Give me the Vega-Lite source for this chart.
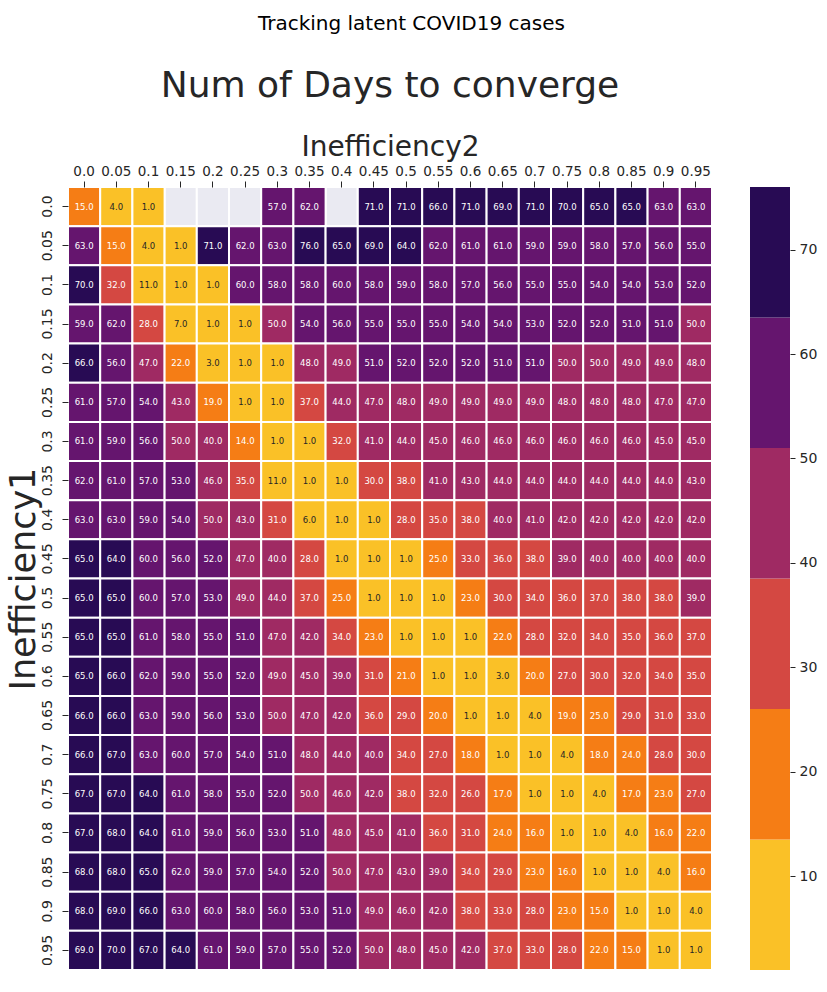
{
  "$schema": "https://vega.github.io/schema/vega-lite/v6.json",
  "background": "white",
  "padding": {"left": 6, "top": 14, "right": 5, "bottom": 5},
  "title": {"text": "Tracking latent COVID19 cases", "fontSize": 20, "fontWeight": "normal", "color": "black", "font": "DejaVu Sans", "anchor": "middle", "offset": 34},
  "config": {"view": {"stroke": null}, "font": "DejaVu Sans"},
  "spacing": 36,
  "resolve": {"scale": {"color": "independent"}},
  "hconcat": [
    {
      "width": 644,
      "height": 783,
      "title": {"text": "Num of Days to converge", "fontSize": 36, "fontWeight": "normal", "color": "#262626", "offset": 28, "anchor": "middle"},
      "data": {"values": [
        {"ineff1":"0.0","ineff2":"0.0","days":15},{"ineff1":"0.0","ineff2":"0.05","days":4},{"ineff1":"0.0","ineff2":"0.1","days":1},{"ineff1":"0.0","ineff2":"0.15","days":null},{"ineff1":"0.0","ineff2":"0.2","days":null},{"ineff1":"0.0","ineff2":"0.25","days":null},{"ineff1":"0.0","ineff2":"0.3","days":57},{"ineff1":"0.0","ineff2":"0.35","days":62},{"ineff1":"0.0","ineff2":"0.4","days":null},{"ineff1":"0.0","ineff2":"0.45","days":71},{"ineff1":"0.0","ineff2":"0.5","days":71},{"ineff1":"0.0","ineff2":"0.55","days":66},{"ineff1":"0.0","ineff2":"0.6","days":71},{"ineff1":"0.0","ineff2":"0.65","days":69},{"ineff1":"0.0","ineff2":"0.7","days":71},{"ineff1":"0.0","ineff2":"0.75","days":70},{"ineff1":"0.0","ineff2":"0.8","days":65},{"ineff1":"0.0","ineff2":"0.85","days":65},{"ineff1":"0.0","ineff2":"0.9","days":63},{"ineff1":"0.0","ineff2":"0.95","days":63},
        {"ineff1":"0.05","ineff2":"0.0","days":63},{"ineff1":"0.05","ineff2":"0.05","days":15},{"ineff1":"0.05","ineff2":"0.1","days":4},{"ineff1":"0.05","ineff2":"0.15","days":1},{"ineff1":"0.05","ineff2":"0.2","days":71},{"ineff1":"0.05","ineff2":"0.25","days":62},{"ineff1":"0.05","ineff2":"0.3","days":63},{"ineff1":"0.05","ineff2":"0.35","days":76},{"ineff1":"0.05","ineff2":"0.4","days":65},{"ineff1":"0.05","ineff2":"0.45","days":69},{"ineff1":"0.05","ineff2":"0.5","days":64},{"ineff1":"0.05","ineff2":"0.55","days":62},{"ineff1":"0.05","ineff2":"0.6","days":61},{"ineff1":"0.05","ineff2":"0.65","days":61},{"ineff1":"0.05","ineff2":"0.7","days":59},{"ineff1":"0.05","ineff2":"0.75","days":59},{"ineff1":"0.05","ineff2":"0.8","days":58},{"ineff1":"0.05","ineff2":"0.85","days":57},{"ineff1":"0.05","ineff2":"0.9","days":56},{"ineff1":"0.05","ineff2":"0.95","days":55},
        {"ineff1":"0.1","ineff2":"0.0","days":70},{"ineff1":"0.1","ineff2":"0.05","days":32},{"ineff1":"0.1","ineff2":"0.1","days":11},{"ineff1":"0.1","ineff2":"0.15","days":1},{"ineff1":"0.1","ineff2":"0.2","days":1},{"ineff1":"0.1","ineff2":"0.25","days":60},{"ineff1":"0.1","ineff2":"0.3","days":58},{"ineff1":"0.1","ineff2":"0.35","days":58},{"ineff1":"0.1","ineff2":"0.4","days":60},{"ineff1":"0.1","ineff2":"0.45","days":58},{"ineff1":"0.1","ineff2":"0.5","days":59},{"ineff1":"0.1","ineff2":"0.55","days":58},{"ineff1":"0.1","ineff2":"0.6","days":57},{"ineff1":"0.1","ineff2":"0.65","days":56},{"ineff1":"0.1","ineff2":"0.7","days":55},{"ineff1":"0.1","ineff2":"0.75","days":55},{"ineff1":"0.1","ineff2":"0.8","days":54},{"ineff1":"0.1","ineff2":"0.85","days":54},{"ineff1":"0.1","ineff2":"0.9","days":53},{"ineff1":"0.1","ineff2":"0.95","days":52},
        {"ineff1":"0.15","ineff2":"0.0","days":59},{"ineff1":"0.15","ineff2":"0.05","days":62},{"ineff1":"0.15","ineff2":"0.1","days":28},{"ineff1":"0.15","ineff2":"0.15","days":7},{"ineff1":"0.15","ineff2":"0.2","days":1},{"ineff1":"0.15","ineff2":"0.25","days":1},{"ineff1":"0.15","ineff2":"0.3","days":50},{"ineff1":"0.15","ineff2":"0.35","days":54},{"ineff1":"0.15","ineff2":"0.4","days":56},{"ineff1":"0.15","ineff2":"0.45","days":55},{"ineff1":"0.15","ineff2":"0.5","days":55},{"ineff1":"0.15","ineff2":"0.55","days":55},{"ineff1":"0.15","ineff2":"0.6","days":54},{"ineff1":"0.15","ineff2":"0.65","days":54},{"ineff1":"0.15","ineff2":"0.7","days":53},{"ineff1":"0.15","ineff2":"0.75","days":52},{"ineff1":"0.15","ineff2":"0.8","days":52},{"ineff1":"0.15","ineff2":"0.85","days":51},{"ineff1":"0.15","ineff2":"0.9","days":51},{"ineff1":"0.15","ineff2":"0.95","days":50},
        {"ineff1":"0.2","ineff2":"0.0","days":66},{"ineff1":"0.2","ineff2":"0.05","days":56},{"ineff1":"0.2","ineff2":"0.1","days":47},{"ineff1":"0.2","ineff2":"0.15","days":22},{"ineff1":"0.2","ineff2":"0.2","days":3},{"ineff1":"0.2","ineff2":"0.25","days":1},{"ineff1":"0.2","ineff2":"0.3","days":1},{"ineff1":"0.2","ineff2":"0.35","days":48},{"ineff1":"0.2","ineff2":"0.4","days":49},{"ineff1":"0.2","ineff2":"0.45","days":51},{"ineff1":"0.2","ineff2":"0.5","days":52},{"ineff1":"0.2","ineff2":"0.55","days":52},{"ineff1":"0.2","ineff2":"0.6","days":52},{"ineff1":"0.2","ineff2":"0.65","days":51},{"ineff1":"0.2","ineff2":"0.7","days":51},{"ineff1":"0.2","ineff2":"0.75","days":50},{"ineff1":"0.2","ineff2":"0.8","days":50},{"ineff1":"0.2","ineff2":"0.85","days":49},{"ineff1":"0.2","ineff2":"0.9","days":49},{"ineff1":"0.2","ineff2":"0.95","days":48},
        {"ineff1":"0.25","ineff2":"0.0","days":61},{"ineff1":"0.25","ineff2":"0.05","days":57},{"ineff1":"0.25","ineff2":"0.1","days":54},{"ineff1":"0.25","ineff2":"0.15","days":43},{"ineff1":"0.25","ineff2":"0.2","days":19},{"ineff1":"0.25","ineff2":"0.25","days":1},{"ineff1":"0.25","ineff2":"0.3","days":1},{"ineff1":"0.25","ineff2":"0.35","days":37},{"ineff1":"0.25","ineff2":"0.4","days":44},{"ineff1":"0.25","ineff2":"0.45","days":47},{"ineff1":"0.25","ineff2":"0.5","days":48},{"ineff1":"0.25","ineff2":"0.55","days":49},{"ineff1":"0.25","ineff2":"0.6","days":49},{"ineff1":"0.25","ineff2":"0.65","days":49},{"ineff1":"0.25","ineff2":"0.7","days":49},{"ineff1":"0.25","ineff2":"0.75","days":48},{"ineff1":"0.25","ineff2":"0.8","days":48},{"ineff1":"0.25","ineff2":"0.85","days":48},{"ineff1":"0.25","ineff2":"0.9","days":47},{"ineff1":"0.25","ineff2":"0.95","days":47},
        {"ineff1":"0.3","ineff2":"0.0","days":61},{"ineff1":"0.3","ineff2":"0.05","days":59},{"ineff1":"0.3","ineff2":"0.1","days":56},{"ineff1":"0.3","ineff2":"0.15","days":50},{"ineff1":"0.3","ineff2":"0.2","days":40},{"ineff1":"0.3","ineff2":"0.25","days":14},{"ineff1":"0.3","ineff2":"0.3","days":1},{"ineff1":"0.3","ineff2":"0.35","days":1},{"ineff1":"0.3","ineff2":"0.4","days":32},{"ineff1":"0.3","ineff2":"0.45","days":41},{"ineff1":"0.3","ineff2":"0.5","days":44},{"ineff1":"0.3","ineff2":"0.55","days":45},{"ineff1":"0.3","ineff2":"0.6","days":46},{"ineff1":"0.3","ineff2":"0.65","days":46},{"ineff1":"0.3","ineff2":"0.7","days":46},{"ineff1":"0.3","ineff2":"0.75","days":46},{"ineff1":"0.3","ineff2":"0.8","days":46},{"ineff1":"0.3","ineff2":"0.85","days":46},{"ineff1":"0.3","ineff2":"0.9","days":45},{"ineff1":"0.3","ineff2":"0.95","days":45},
        {"ineff1":"0.35","ineff2":"0.0","days":62},{"ineff1":"0.35","ineff2":"0.05","days":61},{"ineff1":"0.35","ineff2":"0.1","days":57},{"ineff1":"0.35","ineff2":"0.15","days":53},{"ineff1":"0.35","ineff2":"0.2","days":46},{"ineff1":"0.35","ineff2":"0.25","days":35},{"ineff1":"0.35","ineff2":"0.3","days":11},{"ineff1":"0.35","ineff2":"0.35","days":1},{"ineff1":"0.35","ineff2":"0.4","days":1},{"ineff1":"0.35","ineff2":"0.45","days":30},{"ineff1":"0.35","ineff2":"0.5","days":38},{"ineff1":"0.35","ineff2":"0.55","days":41},{"ineff1":"0.35","ineff2":"0.6","days":43},{"ineff1":"0.35","ineff2":"0.65","days":44},{"ineff1":"0.35","ineff2":"0.7","days":44},{"ineff1":"0.35","ineff2":"0.75","days":44},{"ineff1":"0.35","ineff2":"0.8","days":44},{"ineff1":"0.35","ineff2":"0.85","days":44},{"ineff1":"0.35","ineff2":"0.9","days":44},{"ineff1":"0.35","ineff2":"0.95","days":43},
        {"ineff1":"0.4","ineff2":"0.0","days":63},{"ineff1":"0.4","ineff2":"0.05","days":63},{"ineff1":"0.4","ineff2":"0.1","days":59},{"ineff1":"0.4","ineff2":"0.15","days":54},{"ineff1":"0.4","ineff2":"0.2","days":50},{"ineff1":"0.4","ineff2":"0.25","days":43},{"ineff1":"0.4","ineff2":"0.3","days":31},{"ineff1":"0.4","ineff2":"0.35","days":6},{"ineff1":"0.4","ineff2":"0.4","days":1},{"ineff1":"0.4","ineff2":"0.45","days":1},{"ineff1":"0.4","ineff2":"0.5","days":28},{"ineff1":"0.4","ineff2":"0.55","days":35},{"ineff1":"0.4","ineff2":"0.6","days":38},{"ineff1":"0.4","ineff2":"0.65","days":40},{"ineff1":"0.4","ineff2":"0.7","days":41},{"ineff1":"0.4","ineff2":"0.75","days":42},{"ineff1":"0.4","ineff2":"0.8","days":42},{"ineff1":"0.4","ineff2":"0.85","days":42},{"ineff1":"0.4","ineff2":"0.9","days":42},{"ineff1":"0.4","ineff2":"0.95","days":42},
        {"ineff1":"0.45","ineff2":"0.0","days":65},{"ineff1":"0.45","ineff2":"0.05","days":64},{"ineff1":"0.45","ineff2":"0.1","days":60},{"ineff1":"0.45","ineff2":"0.15","days":56},{"ineff1":"0.45","ineff2":"0.2","days":52},{"ineff1":"0.45","ineff2":"0.25","days":47},{"ineff1":"0.45","ineff2":"0.3","days":40},{"ineff1":"0.45","ineff2":"0.35","days":28},{"ineff1":"0.45","ineff2":"0.4","days":1},{"ineff1":"0.45","ineff2":"0.45","days":1},{"ineff1":"0.45","ineff2":"0.5","days":1},{"ineff1":"0.45","ineff2":"0.55","days":25},{"ineff1":"0.45","ineff2":"0.6","days":33},{"ineff1":"0.45","ineff2":"0.65","days":36},{"ineff1":"0.45","ineff2":"0.7","days":38},{"ineff1":"0.45","ineff2":"0.75","days":39},{"ineff1":"0.45","ineff2":"0.8","days":40},{"ineff1":"0.45","ineff2":"0.85","days":40},{"ineff1":"0.45","ineff2":"0.9","days":40},{"ineff1":"0.45","ineff2":"0.95","days":40},
        {"ineff1":"0.5","ineff2":"0.0","days":65},{"ineff1":"0.5","ineff2":"0.05","days":65},{"ineff1":"0.5","ineff2":"0.1","days":60},{"ineff1":"0.5","ineff2":"0.15","days":57},{"ineff1":"0.5","ineff2":"0.2","days":53},{"ineff1":"0.5","ineff2":"0.25","days":49},{"ineff1":"0.5","ineff2":"0.3","days":44},{"ineff1":"0.5","ineff2":"0.35","days":37},{"ineff1":"0.5","ineff2":"0.4","days":25},{"ineff1":"0.5","ineff2":"0.45","days":1},{"ineff1":"0.5","ineff2":"0.5","days":1},{"ineff1":"0.5","ineff2":"0.55","days":1},{"ineff1":"0.5","ineff2":"0.6","days":23},{"ineff1":"0.5","ineff2":"0.65","days":30},{"ineff1":"0.5","ineff2":"0.7","days":34},{"ineff1":"0.5","ineff2":"0.75","days":36},{"ineff1":"0.5","ineff2":"0.8","days":37},{"ineff1":"0.5","ineff2":"0.85","days":38},{"ineff1":"0.5","ineff2":"0.9","days":38},{"ineff1":"0.5","ineff2":"0.95","days":39},
        {"ineff1":"0.55","ineff2":"0.0","days":65},{"ineff1":"0.55","ineff2":"0.05","days":65},{"ineff1":"0.55","ineff2":"0.1","days":61},{"ineff1":"0.55","ineff2":"0.15","days":58},{"ineff1":"0.55","ineff2":"0.2","days":55},{"ineff1":"0.55","ineff2":"0.25","days":51},{"ineff1":"0.55","ineff2":"0.3","days":47},{"ineff1":"0.55","ineff2":"0.35","days":42},{"ineff1":"0.55","ineff2":"0.4","days":34},{"ineff1":"0.55","ineff2":"0.45","days":23},{"ineff1":"0.55","ineff2":"0.5","days":1},{"ineff1":"0.55","ineff2":"0.55","days":1},{"ineff1":"0.55","ineff2":"0.6","days":1},{"ineff1":"0.55","ineff2":"0.65","days":22},{"ineff1":"0.55","ineff2":"0.7","days":28},{"ineff1":"0.55","ineff2":"0.75","days":32},{"ineff1":"0.55","ineff2":"0.8","days":34},{"ineff1":"0.55","ineff2":"0.85","days":35},{"ineff1":"0.55","ineff2":"0.9","days":36},{"ineff1":"0.55","ineff2":"0.95","days":37},
        {"ineff1":"0.6","ineff2":"0.0","days":65},{"ineff1":"0.6","ineff2":"0.05","days":66},{"ineff1":"0.6","ineff2":"0.1","days":62},{"ineff1":"0.6","ineff2":"0.15","days":59},{"ineff1":"0.6","ineff2":"0.2","days":55},{"ineff1":"0.6","ineff2":"0.25","days":52},{"ineff1":"0.6","ineff2":"0.3","days":49},{"ineff1":"0.6","ineff2":"0.35","days":45},{"ineff1":"0.6","ineff2":"0.4","days":39},{"ineff1":"0.6","ineff2":"0.45","days":31},{"ineff1":"0.6","ineff2":"0.5","days":21},{"ineff1":"0.6","ineff2":"0.55","days":1},{"ineff1":"0.6","ineff2":"0.6","days":1},{"ineff1":"0.6","ineff2":"0.65","days":3},{"ineff1":"0.6","ineff2":"0.7","days":20},{"ineff1":"0.6","ineff2":"0.75","days":27},{"ineff1":"0.6","ineff2":"0.8","days":30},{"ineff1":"0.6","ineff2":"0.85","days":32},{"ineff1":"0.6","ineff2":"0.9","days":34},{"ineff1":"0.6","ineff2":"0.95","days":35},
        {"ineff1":"0.65","ineff2":"0.0","days":66},{"ineff1":"0.65","ineff2":"0.05","days":66},{"ineff1":"0.65","ineff2":"0.1","days":63},{"ineff1":"0.65","ineff2":"0.15","days":59},{"ineff1":"0.65","ineff2":"0.2","days":56},{"ineff1":"0.65","ineff2":"0.25","days":53},{"ineff1":"0.65","ineff2":"0.3","days":50},{"ineff1":"0.65","ineff2":"0.35","days":47},{"ineff1":"0.65","ineff2":"0.4","days":42},{"ineff1":"0.65","ineff2":"0.45","days":36},{"ineff1":"0.65","ineff2":"0.5","days":29},{"ineff1":"0.65","ineff2":"0.55","days":20},{"ineff1":"0.65","ineff2":"0.6","days":1},{"ineff1":"0.65","ineff2":"0.65","days":1},{"ineff1":"0.65","ineff2":"0.7","days":4},{"ineff1":"0.65","ineff2":"0.75","days":19},{"ineff1":"0.65","ineff2":"0.8","days":25},{"ineff1":"0.65","ineff2":"0.85","days":29},{"ineff1":"0.65","ineff2":"0.9","days":31},{"ineff1":"0.65","ineff2":"0.95","days":33},
        {"ineff1":"0.7","ineff2":"0.0","days":66},{"ineff1":"0.7","ineff2":"0.05","days":67},{"ineff1":"0.7","ineff2":"0.1","days":63},{"ineff1":"0.7","ineff2":"0.15","days":60},{"ineff1":"0.7","ineff2":"0.2","days":57},{"ineff1":"0.7","ineff2":"0.25","days":54},{"ineff1":"0.7","ineff2":"0.3","days":51},{"ineff1":"0.7","ineff2":"0.35","days":48},{"ineff1":"0.7","ineff2":"0.4","days":44},{"ineff1":"0.7","ineff2":"0.45","days":40},{"ineff1":"0.7","ineff2":"0.5","days":34},{"ineff1":"0.7","ineff2":"0.55","days":27},{"ineff1":"0.7","ineff2":"0.6","days":18},{"ineff1":"0.7","ineff2":"0.65","days":1},{"ineff1":"0.7","ineff2":"0.7","days":1},{"ineff1":"0.7","ineff2":"0.75","days":4},{"ineff1":"0.7","ineff2":"0.8","days":18},{"ineff1":"0.7","ineff2":"0.85","days":24},{"ineff1":"0.7","ineff2":"0.9","days":28},{"ineff1":"0.7","ineff2":"0.95","days":30},
        {"ineff1":"0.75","ineff2":"0.0","days":67},{"ineff1":"0.75","ineff2":"0.05","days":67},{"ineff1":"0.75","ineff2":"0.1","days":64},{"ineff1":"0.75","ineff2":"0.15","days":61},{"ineff1":"0.75","ineff2":"0.2","days":58},{"ineff1":"0.75","ineff2":"0.25","days":55},{"ineff1":"0.75","ineff2":"0.3","days":52},{"ineff1":"0.75","ineff2":"0.35","days":50},{"ineff1":"0.75","ineff2":"0.4","days":46},{"ineff1":"0.75","ineff2":"0.45","days":42},{"ineff1":"0.75","ineff2":"0.5","days":38},{"ineff1":"0.75","ineff2":"0.55","days":32},{"ineff1":"0.75","ineff2":"0.6","days":26},{"ineff1":"0.75","ineff2":"0.65","days":17},{"ineff1":"0.75","ineff2":"0.7","days":1},{"ineff1":"0.75","ineff2":"0.75","days":1},{"ineff1":"0.75","ineff2":"0.8","days":4},{"ineff1":"0.75","ineff2":"0.85","days":17},{"ineff1":"0.75","ineff2":"0.9","days":23},{"ineff1":"0.75","ineff2":"0.95","days":27},
        {"ineff1":"0.8","ineff2":"0.0","days":67},{"ineff1":"0.8","ineff2":"0.05","days":68},{"ineff1":"0.8","ineff2":"0.1","days":64},{"ineff1":"0.8","ineff2":"0.15","days":61},{"ineff1":"0.8","ineff2":"0.2","days":59},{"ineff1":"0.8","ineff2":"0.25","days":56},{"ineff1":"0.8","ineff2":"0.3","days":53},{"ineff1":"0.8","ineff2":"0.35","days":51},{"ineff1":"0.8","ineff2":"0.4","days":48},{"ineff1":"0.8","ineff2":"0.45","days":45},{"ineff1":"0.8","ineff2":"0.5","days":41},{"ineff1":"0.8","ineff2":"0.55","days":36},{"ineff1":"0.8","ineff2":"0.6","days":31},{"ineff1":"0.8","ineff2":"0.65","days":24},{"ineff1":"0.8","ineff2":"0.7","days":16},{"ineff1":"0.8","ineff2":"0.75","days":1},{"ineff1":"0.8","ineff2":"0.8","days":1},{"ineff1":"0.8","ineff2":"0.85","days":4},{"ineff1":"0.8","ineff2":"0.9","days":16},{"ineff1":"0.8","ineff2":"0.95","days":22},
        {"ineff1":"0.85","ineff2":"0.0","days":68},{"ineff1":"0.85","ineff2":"0.05","days":68},{"ineff1":"0.85","ineff2":"0.1","days":65},{"ineff1":"0.85","ineff2":"0.15","days":62},{"ineff1":"0.85","ineff2":"0.2","days":59},{"ineff1":"0.85","ineff2":"0.25","days":57},{"ineff1":"0.85","ineff2":"0.3","days":54},{"ineff1":"0.85","ineff2":"0.35","days":52},{"ineff1":"0.85","ineff2":"0.4","days":50},{"ineff1":"0.85","ineff2":"0.45","days":47},{"ineff1":"0.85","ineff2":"0.5","days":43},{"ineff1":"0.85","ineff2":"0.55","days":39},{"ineff1":"0.85","ineff2":"0.6","days":34},{"ineff1":"0.85","ineff2":"0.65","days":29},{"ineff1":"0.85","ineff2":"0.7","days":23},{"ineff1":"0.85","ineff2":"0.75","days":16},{"ineff1":"0.85","ineff2":"0.8","days":1},{"ineff1":"0.85","ineff2":"0.85","days":1},{"ineff1":"0.85","ineff2":"0.9","days":4},{"ineff1":"0.85","ineff2":"0.95","days":16},
        {"ineff1":"0.9","ineff2":"0.0","days":68},{"ineff1":"0.9","ineff2":"0.05","days":69},{"ineff1":"0.9","ineff2":"0.1","days":66},{"ineff1":"0.9","ineff2":"0.15","days":63},{"ineff1":"0.9","ineff2":"0.2","days":60},{"ineff1":"0.9","ineff2":"0.25","days":58},{"ineff1":"0.9","ineff2":"0.3","days":56},{"ineff1":"0.9","ineff2":"0.35","days":53},{"ineff1":"0.9","ineff2":"0.4","days":51},{"ineff1":"0.9","ineff2":"0.45","days":49},{"ineff1":"0.9","ineff2":"0.5","days":46},{"ineff1":"0.9","ineff2":"0.55","days":42},{"ineff1":"0.9","ineff2":"0.6","days":38},{"ineff1":"0.9","ineff2":"0.65","days":33},{"ineff1":"0.9","ineff2":"0.7","days":28},{"ineff1":"0.9","ineff2":"0.75","days":23},{"ineff1":"0.9","ineff2":"0.8","days":15},{"ineff1":"0.9","ineff2":"0.85","days":1},{"ineff1":"0.9","ineff2":"0.9","days":1},{"ineff1":"0.9","ineff2":"0.95","days":4},
        {"ineff1":"0.95","ineff2":"0.0","days":69},{"ineff1":"0.95","ineff2":"0.05","days":70},{"ineff1":"0.95","ineff2":"0.1","days":67},{"ineff1":"0.95","ineff2":"0.15","days":64},{"ineff1":"0.95","ineff2":"0.2","days":61},{"ineff1":"0.95","ineff2":"0.25","days":59},{"ineff1":"0.95","ineff2":"0.3","days":57},{"ineff1":"0.95","ineff2":"0.35","days":55},{"ineff1":"0.95","ineff2":"0.4","days":52},{"ineff1":"0.95","ineff2":"0.45","days":50},{"ineff1":"0.95","ineff2":"0.5","days":48},{"ineff1":"0.95","ineff2":"0.55","days":45},{"ineff1":"0.95","ineff2":"0.6","days":42},{"ineff1":"0.95","ineff2":"0.65","days":37},{"ineff1":"0.95","ineff2":"0.7","days":33},{"ineff1":"0.95","ineff2":"0.75","days":28},{"ineff1":"0.95","ineff2":"0.8","days":22},{"ineff1":"0.95","ineff2":"0.85","days":15},{"ineff1":"0.95","ineff2":"0.9","days":1},{"ineff1":"0.95","ineff2":"0.95","days":1}
      ]},
      "encoding": {
        "x": {"field": "ineff2", "type": "ordinal",
          "sort": ["0.0","0.05","0.1","0.15","0.2","0.25","0.3","0.35","0.4","0.45","0.5","0.55","0.6","0.65","0.7","0.75","0.8","0.85","0.9","0.95"],
          "scale": {"paddingInner": 0, "paddingOuter": 0},
          "axis": {"orient": "top", "title": "Inefficiency2", "titleFontSize": 28, "titleFontWeight": "normal", "titleColor": "#262626", "labelAngle": 0, "labelFontSize": 13.5, "labelColor": "#262626", "domain": false, "tickSize": 6, "tickColor": "#262626", "labelPadding": 3, "titlePadding": 3, "labelOverlap": false}},
        "y": {"field": "ineff1", "type": "ordinal",
          "sort": ["0.0","0.05","0.1","0.15","0.2","0.25","0.3","0.35","0.4","0.45","0.5","0.55","0.6","0.65","0.7","0.75","0.8","0.85","0.9","0.95"],
          "scale": {"paddingInner": 0, "paddingOuter": 0},
          "axis": {"title": "Inefficiency1", "titleFontSize": 35, "titleFontWeight": "normal", "titleColor": "#262626", "labelAngle": -90, "labelAlign": "center", "labelBaseline": "bottom", "labelFontSize": 14, "labelColor": "#262626", "domain": false, "tickSize": 6, "tickColor": "#262626", "labelPadding": 8, "titlePadding": -1, "labelOverlap": false}}
      },
      "layer": [
        {"mark": {"type": "rect", "fill": "#eaeaf2", "stroke": "white", "strokeWidth": 2}},
        {"transform": [{"filter": "datum.days != null"}],
         "mark": {"type": "rect", "stroke": "white", "strokeWidth": 2},
         "encoding": {"color": {"field": "days", "type": "quantitative", "legend": null,
           "scale": {"type": "threshold", "domain": [13.5, 26, 38.5, 51, 63.5], "range": ["#fac127", "#f57d15", "#d44842", "#9f2a63", "#65156e", "#280b54"]}}}},
        {"transform": [{"filter": "datum.days != null"}],
         "mark": {"type": "text", "fontSize": 8.5, "font": "DejaVu Sans"},
         "encoding": {"text": {"field": "days", "type": "quantitative", "format": ".1f"},
           "color": {"condition": {"test": "datum.days < 13.5", "value": "#262626"}, "value": "white"}}}
      ]
    },
    {
      "width": 40,
      "height": 783,
      "data": {"values": [
        {"lo": 1, "hi": 13.5},
        {"lo": 13.5, "hi": 26},
        {"lo": 26, "hi": 38.5},
        {"lo": 38.5, "hi": 51},
        {"lo": 51, "hi": 63.5},
        {"lo": 63.5, "hi": 76}
      ]},
      "mark": {"type": "rect"},
      "encoding": {
        "y": {"field": "lo", "type": "quantitative", "scale": {"domain": [1, 76], "nice": false, "zero": false},
          "axis": {"orient": "right", "title": null, "values": [10, 20, 30, 40, 50, 60, 70], "domain": false, "grid": false, "tickSize": 5, "tickColor": "#262626", "labelFontSize": 14, "labelColor": "#262626", "labelPadding": 4}},
        "y2": {"field": "hi"},
        "color": {"field": "lo", "type": "quantitative", "legend": null,
          "scale": {"type": "threshold", "domain": [13.5, 26, 38.5, 51, 63.5], "range": ["#fac127", "#f57d15", "#d44842", "#9f2a63", "#65156e", "#280b54"]}}
      }
    }
  ]
}
